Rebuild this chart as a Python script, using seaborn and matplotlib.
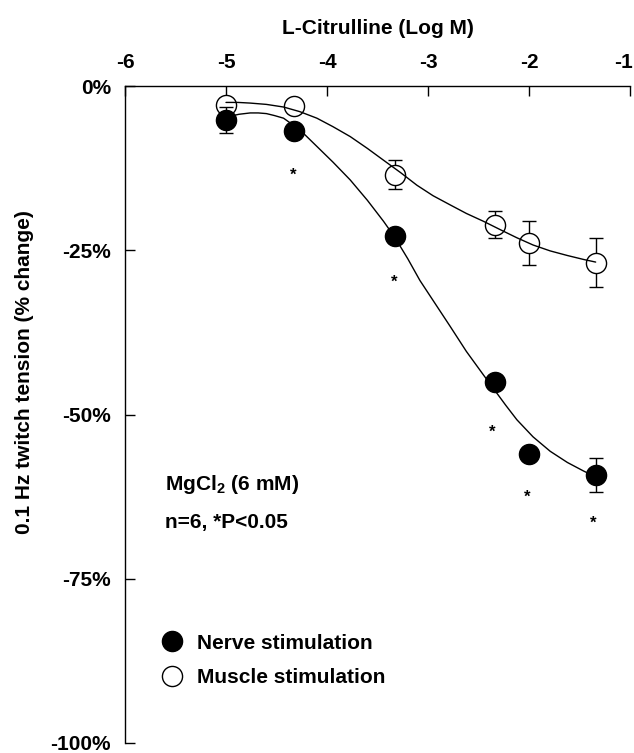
import matplotlib
matplotlib.use("Agg")
import matplotlib.pyplot as plt
import matplotlib.transforms as mtransforms
from matplotlib.lines import Line2D
import seaborn as sns
import pandas as pd

# ---------------------- DATA ----------------------
conc = [-5.0, -4.33, -3.33, -2.34, -2.0, -1.34]

nerve_mean = [-5.2, -6.9, -22.9, -45.0, -56.0, -59.2]
nerve_err = [2.0, 1.0, 1.0, 1.0, 1.0, 2.6]

muscle_mean = [-2.9, -3.1, -13.5, -21.1, -23.9, -26.9]
muscle_err = [1.0, 1.0, 2.2, 2.1, 3.4, 3.7]

# fitted curves
nerve_curve_x = [-5.0, -4.93, -4.87, -4.76, -4.68, -4.60, -4.52, -4.43, -4.33, -4.22,
                 -4.10, -3.94, -3.77, -3.60, -3.44, -3.33, -3.20, -3.08, -2.93,
                 -2.78, -2.62, -2.45, -2.34, -2.23, -2.12, -1.96, -1.79, -1.62,
                 -1.46, -1.34]
nerve_curve_y = [-4.8, -4.5, -4.3, -4.1, -4.1, -4.2, -4.5, -4.9, -6.0, -7.4,
                 -9.2, -11.6, -14.3, -17.4, -20.6, -23.0, -26.3, -29.6, -33.1,
                 -36.6, -40.4, -44.0, -46.3, -48.6, -50.8, -53.4, -55.6, -57.3,
                 -58.6, -59.5]

muscle_curve_x = [-5.0, -4.88, -4.76, -4.60, -4.43, -4.27, -4.10, -3.94, -3.77,
                  -3.60, -3.44, -3.27, -3.11, -2.95, -2.78, -2.62, -2.45, -2.28,
                  -2.12, -1.96, -1.79, -1.62, -1.46, -1.34]
muscle_curve_y = [-2.5, -2.5, -2.6, -2.8, -3.2, -3.9, -4.9, -6.2, -7.7,
                  -9.5, -11.3, -13.2, -15.1, -16.7, -18.1, -19.4, -20.6, -21.9,
                  -23.1, -24.2, -25.1, -25.8, -26.4, -26.8]

# significance stars
star_x = [-4.33, -3.33, -2.36, -2.02, -1.36]
star_y = [-13.6, -29.8, -52.7, -62.6, -66.6]

yticks = [0, -25, -50, -75, -100]
ytick_labels = ["0%", "-25%", "-50%", "-75%", "-100%"]
xticks = [-6, -5, -4, -3, -2, -1]

FS = 15

# ---------------------- PLOT ----------------------
sns.set_theme(style="ticks")
plt.rcParams["font.family"] = ["Liberation Sans", "DejaVu Sans"]
plt.rcParams["font.weight"] = "bold"
plt.rcParams["text.color"] = "black"
plt.rcParams["axes.labelcolor"] = "black"
plt.rcParams["xtick.color"] = "black"
plt.rcParams["ytick.color"] = "black"
plt.rcParams["mathtext.fontset"] = "custom"
plt.rcParams["mathtext.rm"] = "Liberation Sans:bold"
plt.rcParams["mathtext.bf"] = "Liberation Sans:bold"

fig = plt.figure(figsize=(6.34, 7.53), dpi=100)
ax = fig.add_axes([125 / 634, 10 / 753, 505 / 634, 657 / 753])

# open markers (muscle) first, curves above them, filled markers on top
ax.errorbar(conc, muscle_mean, yerr=muscle_err, fmt="none", ecolor="black",
            elinewidth=1.0, capsize=5, capthick=1.0, zorder=2)
ax.plot(conc, muscle_mean, "o", ms=14.5, mfc="white", mec="black", mew=1.0, zorder=3)

curves = pd.concat([
    pd.DataFrame({"x": nerve_curve_x, "y": nerve_curve_y, "grp": "Nerve"}),
    pd.DataFrame({"x": muscle_curve_x, "y": muscle_curve_y, "grp": "Muscle"}),
])
for grp, sub in curves.groupby("grp"):
    sns.lineplot(data=sub, x="x", y="y", color="black", linewidth=1.0,
                 sort=False, ax=ax, zorder=4)

ax.errorbar(conc, nerve_mean, yerr=nerve_err, fmt="none", ecolor="black",
            elinewidth=1.0, capsize=5, capthick=1.0, zorder=5)
ax.plot(conc, nerve_mean, "o", ms=14.5, mfc="black", mec="black", mew=1.0, zorder=6)

for sx, sy in zip(star_x, star_y):
    ax.text(sx, sy, "*", ha="center", va="center", fontsize=12, fontweight="bold")

ax.text(-5.6, -60.7, r"MgCl$_{2}$ (6 mM)", ha="left", va="center",
        fontsize=FS, fontweight="bold")
ax.text(-5.6, -66.4, "n=6, *P<0.05", ha="left", va="center",
        fontsize=FS, fontweight="bold")

handles = [
    Line2D([], [], marker="o", ls="none", ms=14.5, mfc="black", mec="black", mew=1.0),
    Line2D([], [], marker="o", ls="none", ms=14.5, mfc="white", mec="black", mew=1.0),
]
ax.legend(handles, ["Nerve stimulation", "Muscle stimulation"], loc="center left",
          bbox_to_anchor=(0.072, 0.1256), frameon=False, borderaxespad=0, borderpad=0,
          handlelength=1.0, handletextpad=0.7, labelspacing=0.75,
          prop={"size": FS, "weight": "bold"})

# axes styling
ax.set_xlim(-6, -1)
ax.set_ylim(-100, 0)
ax.set_xticks(xticks)
ax.set_xticklabels([str(t) for t in xticks])
ax.set_yticks(yticks)
ax.set_yticklabels(ytick_labels)
ax.xaxis.tick_top()
ax.xaxis.set_label_position("top")
ax.set_xlabel("L-Citrulline (Log M)", fontsize=FS, fontweight="bold", labelpad=14)
ax.set_ylabel("")
ax.tick_params(axis="both", direction="in", length=7, width=1.0, color="black",
               labelsize=FS, pad=10)
for lab in ax.get_xticklabels() + ax.get_yticklabels():
    lab.set_fontweight("bold")

# keep the last x tick label inside the figure
last = ax.get_xticklabels()[-1]
last.set_transform(last.get_transform() +
                   mtransforms.ScaledTranslation(-7 / 100, 0, fig.dpi_scale_trans))

for side in ["right", "bottom"]:
    ax.spines[side].set_visible(False)
for side in ["left", "top"]:
    ax.spines[side].set_linewidth(1.0)
    ax.spines[side].set_color("black")

fig.text(25 / 634, 1 - 372 / 753, "0.1 Hz twitch tension (% change)", rotation=90,
         ha="center", va="center", fontsize=FS, fontweight="bold")

fig.savefig("out.png", dpi=100, facecolor="white")
